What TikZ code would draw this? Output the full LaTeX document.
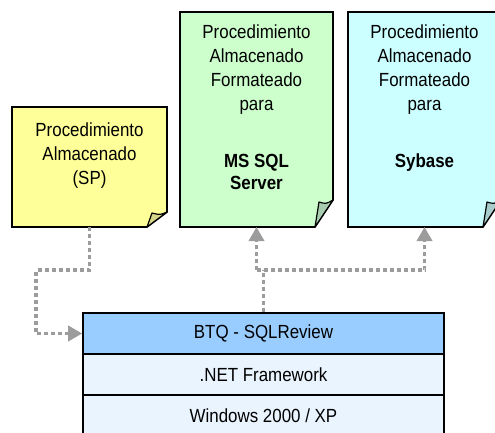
\documentclass[tikz,border=0pt]{standalone}
\usepackage{fontspec}
\setmainfont{Liberation Sans}[FakeStretch=0.89]
\usetikzlibrary{arrows.meta}
\definecolor{yellowc}{HTML}{FFFF99}
\definecolor{yellowf}{HTML}{D6D68A}
\definecolor{greenc}{HTML}{CCFFCC}
\definecolor{greenf}{HTML}{A8CCB0}
\definecolor{cyanc}{HTML}{CCFFFF}
\definecolor{cyanf}{HTML}{A8CCCC}
\definecolor{btqc}{HTML}{99CCFF}
\definecolor{lightc}{HTML}{EAF4FE}
\definecolor{connc}{HTML}{9C9C9C}
\begin{document}
\begin{tikzpicture}[x=1pt,y=-1pt,
  holder/.style={rectangle, inner sep=0pt, outer sep=0pt, draw=none},
  noteline/.style={draw=black, line width=1.6pt, line join=miter},
  foldline/.style={draw=black, line width=1.2pt, line join=round},
  txt/.style={font=\fontsize{19}{24}\selectfont, align=center, inner sep=0pt},
  btxt/.style={font=\fontsize{19}{22.5}\selectfont\bfseries, align=center, inner sep=0pt},
  layer/.style={rectangle, draw=black, line width=1.6pt, minimum width=361pt, minimum height=41pt, inner sep=0pt, font=\fontsize{19}{24}\selectfont},
  conn/.style={draw=connc, line width=3.8pt, dash pattern=on 4pt off 3pt},
  tip/.style={-{Triangle[length=14pt,width=15pt,fill=connc,color=connc]}}
]
\useasboundingbox (0,0) rectangle (495,433);

% note holders
\node[holder, minimum width=155pt, minimum height=120pt] (sp) at (89.5,167) {};
\node[holder, minimum width=153pt, minimum height=215pt] (ms) at (256.5,119.5) {};
\node[holder, minimum width=153pt, minimum height=215pt] (sy) at (424.5,119.5) {};

% note bodies
\draw[noteline, fill=yellowc] (sp.north west) -- (sp.north east) -- ([yshift=15pt]sp.south east) -- ([xshift=-20pt]sp.south east) -- (sp.south west) -- cycle;
\draw[foldline, fill=yellowf] ([xshift=-20pt]sp.south east) -- ([yshift=15pt]sp.south east) .. controls ([xshift=-7pt,yshift=12pt]sp.south east) .. ([xshift=-15pt,yshift=14pt]sp.south east) -- cycle;

\draw[noteline, fill=greenc] (ms.north west) -- (ms.north east) -- ([yshift=27pt]ms.south east) -- ([xshift=-18pt]ms.south east) -- (ms.south west) -- cycle;
\draw[foldline, fill=greenf] ([xshift=-18pt]ms.south east) -- ([yshift=27pt]ms.south east) .. controls ([xshift=-7pt,yshift=23pt]ms.south east) .. ([xshift=-14pt,yshift=25pt]ms.south east) -- cycle;

\draw[noteline, fill=cyanc] (sy.north west) -- (sy.north east) -- ([yshift=27pt]sy.south east) -- ([xshift=-18pt]sy.south east) -- (sy.south west) -- cycle;
\draw[foldline, fill=cyanf] ([xshift=-18pt]sy.south east) -- ([yshift=27pt]sy.south east) .. controls ([xshift=-7pt,yshift=23pt]sy.south east) .. ([xshift=-14pt,yshift=25pt]sy.south east) -- cycle;

% note texts
\node[txt, anchor=north] (spt) at (89.5,123) {Procedimiento\\Almacenado\\(SP)};
\node[txt, anchor=north] (mst) at (256.5,25) {Procedimiento\\Almacenado\\Formateado\\para};
\node[btxt, anchor=north] (msb) at (256.5,154) {MS SQL\\Server};
\node[txt, anchor=north] (syt) at (424.5,25) {Procedimiento\\Almacenado\\Formateado\\para};
\node[btxt, anchor=north] (syb) at (424.5,154) {Sybase};

% stack
\node[layer, fill=btqc] (btq) at (263.5,333.5) {BTQ - SQLReview};
\node[layer, fill=lightc] (net) at (263.5,374.5) {.NET Framework};
\node[layer, fill=lightc] (win) at (263.5,415.5) {Windows 2000 / XP};

% connectors
\coordinate (bendL) at (36,270);
\coordinate (split) at (263.5,270);
\draw[conn, tip] (sp.south) -- (sp.south |- bendL) -- (bendL) |- (btq.west);
\draw[conn] (btq.north) -- (split);
\draw[conn, tip] (ms.south |- split) -- (sy.south |- split) -- (sy.south);
\draw[conn, tip] (ms.south |- split) -- (ms.south);
\end{tikzpicture}
\end{document}
